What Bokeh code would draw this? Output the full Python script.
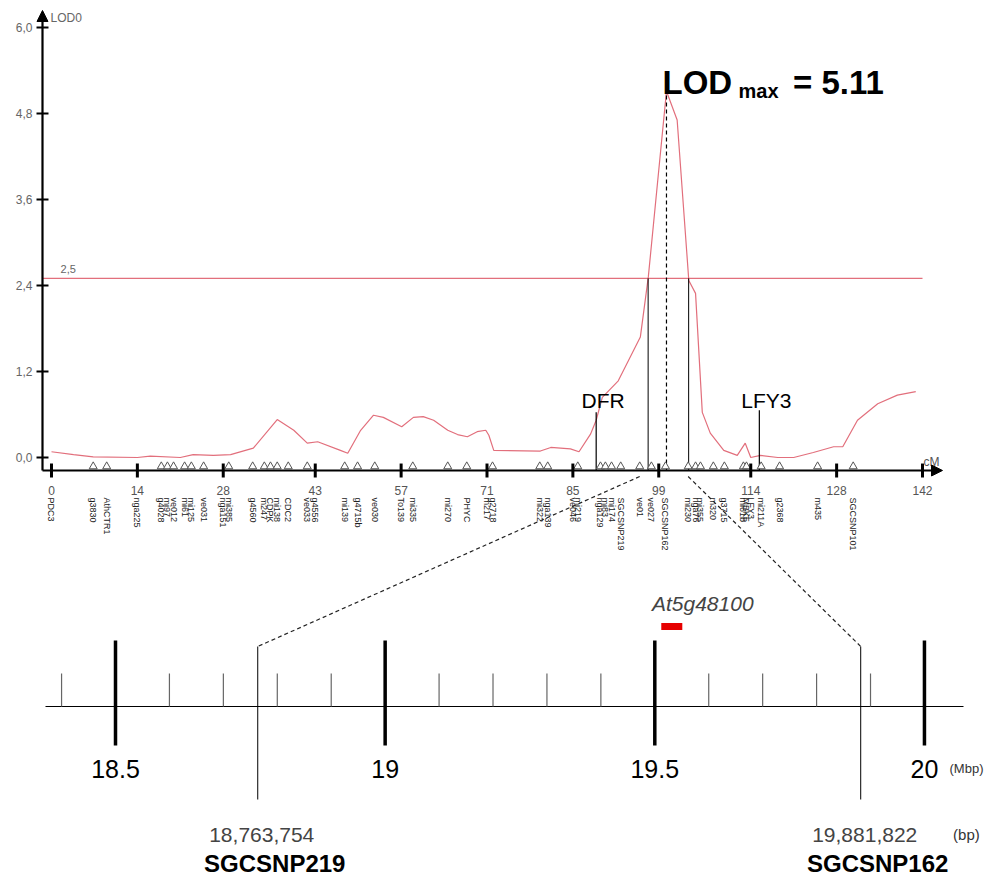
import numpy as np
from bokeh.plotting import figure
from bokeh.models import Range1d, Arrow, NormalHead
from bokeh.core.properties import value
from bokeh.embed import file_html
from bokeh.resources import INLINE

# ---------------- genetic map: LOD profile on chromosome 5 ----------------
lod_cm = [0.0, 3.6, 6.8, 14.0, 16.1, 21.0, 23.1, 26.4, 29.2, 32.9, 36.8, 39.5,
          41.7, 43.4, 47.1, 48.3, 50.4, 52.5, 54.1, 57.1, 59.0, 60.6, 62.3,
          64.6, 66.2, 67.8, 69.4, 70.8, 71.3, 72.1, 79.7, 81.4, 84.6, 86.0,
          87.9, 88.8, 89.8, 92.4, 96.0, 97.3, 100.26, 102.0, 103.9, 105.0,
          106.1, 107.4, 109.6, 111.8, 113.1, 114.0, 115.6, 118.4, 121.0,
          124.2, 127.5, 129.0, 131.4, 134.7, 137.9, 140.9]
lod_val = [0.08, 0.04, 0.01, 0.0, 0.02, 0.0, 0.04, 0.03, 0.04, 0.13, 0.53, 0.38,
           0.20, 0.22, 0.10, 0.06, 0.38, 0.59, 0.56, 0.43, 0.56, 0.57, 0.52,
           0.38, 0.32, 0.29, 0.36, 0.38, 0.31, 0.10, 0.09, 0.14, 0.12, 0.08,
           0.33, 0.52, 0.84, 1.07, 1.68, 2.52, 5.11, 4.71, 2.47, 2.29,
           0.63, 0.34, 0.10, 0.03, 0.20, 0.0, 0.03, 0.0, 0.0,
           0.07, 0.15, 0.15, 0.52, 0.75, 0.87, 0.92]
threshold = 2.5

lod_ticks = [0.0, 1.2, 2.4, 3.6, 4.8, 6.0]
lod_tick_labels = ["0,0", "1,2", "2,4", "3,6", "4,8", "6,0"]
cm_ticks = [0, 14, 28, 43, 57, 71, 85, 99, 114, 128, 142]
cm_tick_labels = ["0", "14", "28", "43", "57", "71", "85", "99", "114", "128", "142"]

marker_cm = [0.0, 6.8, 9.0, 14.0, 17.9, 18.9, 19.9, 21.7, 22.8, 24.8, 28.0,
             28.9, 32.8, 34.7, 35.7, 36.8, 38.6, 41.7, 43.0, 47.8, 49.9, 52.7,
             57.0, 58.9, 64.6, 67.7, 71.0, 71.9, 79.6, 80.9, 85.0, 85.8, 89.5,
             90.3, 91.3, 92.8, 95.9, 97.8, 100.1, 103.8, 105.0, 105.8, 107.9,
             109.7, 112.8, 113.3, 114.0, 115.7, 118.7, 124.9, 130.7, 142.0]
marker_name = ["PDC3", "g3830", "AthCTR1", "nga225", "g4028", "mi97", "ve012",
               "mi61", "mi125", "ve031", "nga151", "mi385", "g4560", "m247",
               "CDPK", "mi138", "CDC2", "ve033", "g4556", "mi139", "g4715b",
               "ve030", "To139", "mi335", "mi270", "PHYC", "m217", "g2718",
               "mi322", "nga139", "ve046", "mi219", "nga129", "mi83", "mi174",
               "SGCSNP219", "ve01", "ve027", "SGCSNP162", "mi230", "nga76",
               "mi355", "m320", "g3715", "mi61b", "MBK5", "LFY3", "mi211A",
               "g2368", "m435", "SGCSNP101"]

stem_name = ["DFR", "LFY3"]
stem_cm = [88.8, 115.4]
stem_lod = [0.63, 0.66]

# ---------------- physical map of the QTL interval ----------------
mbp_major = [18.5, 19.0, 19.5, 20.0]
mbp_major_labels = ["18.5", "19", "19.5", "20"]
mbp_minor = [18.4, 18.6, 18.7, 18.8, 18.9, 19.1, 19.2, 19.3, 19.4,
             19.6, 19.7, 19.8, 19.9]
snp_name = ["SGCSNP219", "SGCSNP162"]
snp_bp = [18763754, 19881822]
snp_cm = [95.9, 103.8]
gene_name = "At5g48100"
gene_mbp = [19.512, 19.551]

FONT = value("Liberation Sans")
CURVE = "#e26f7c"

# ---------------- canvas ----------------
W, H = 998, 879
p = figure(width=W, height=H, output_backend="svg", toolbar_location=None,
           x_range=Range1d(-8.314, 154.39), y_range=Range1d(-5.888, 6.3765),
           x_axis_type=None, y_axis_type=None, min_border=0,
           background_fill_color="white", border_fill_color="white")
p.outline_line_color = None
p.grid.visible = False
p.extra_x_ranges = {"mbp": Range1d(18.28676, 20.13731)}
p.extra_y_ranges = {"px": Range1d(H, 0)}

AXIS_Y = -0.181       # LOD level of the cM axis line
AXIS_X = -1.467       # cM position of the LOD axis line

# threshold and LOD curve
p.segment(x0=[AXIS_X], y0=[threshold], x1=[cm_ticks[-1]], y1=[threshold],
          line_color=CURVE, line_width=1.1)
p.text(x=[1.47], y=[threshold + 0.13], text=[f"{threshold:.1f}".replace(".", ",")],
       text_font=FONT, text_font_size="11px", text_color="#666",
       text_align="left", text_baseline="middle")
p.line(lod_cm, lod_val, line_color=CURVE, line_width=1.2)

# support interval stems where the curve crosses the threshold, and the peak
cm_arr = np.array(lod_cm)
lod_arr = np.array(lod_val)
ipk = int(np.argmax(lod_arr))
left_x = np.interp(threshold, lod_arr[:ipk + 1][-3:], cm_arr[:ipk + 1][-3:])
right_x = np.interp(threshold, lod_arr[ipk:ipk + 3][::-1], cm_arr[ipk:ipk + 3][::-1])
p.segment(x0=[left_x, right_x], y0=[AXIS_Y] * 2, x1=[left_x, right_x],
          y1=[threshold] * 2, line_color="black", line_width=1)
p.segment(x0=[cm_arr[ipk]], y0=[AXIS_Y], x1=[cm_arr[ipk]], y1=[lod_arr[ipk]],
          line_color="black", line_width=1.2, line_dash="4 3")

p.text(x=[99.61], y=[5.232], text=["LOD"], text_font=FONT, text_font_size="33px",
       text_font_style="bold", text_color="black", text_align="left",
       text_baseline="alphabetic")
p.text(x=[112.0], y=[5.107], text=["max"], text_font=FONT, text_font_size="20px",
       text_font_style="bold", text_color="black", text_align="left",
       text_baseline="alphabetic")
p.text(x=[120.9], y=[5.232], text=[f"= {lod_arr[ipk]:.2f}"], text_font=FONT,
       text_font_size="33px", text_font_style="bold", text_color="black",
       text_align="left", text_baseline="alphabetic")

# named marker stems
p.segment(x0=stem_cm, y0=[AXIS_Y] * len(stem_cm), x1=stem_cm, y1=stem_lod,
          line_color="black", line_width=1.2)
p.text(x=stem_cm, y=[0.795] * len(stem_cm), text=stem_name, x_offset=7,
       text_font=FONT, text_font_size="21px", text_color="black",
       text_align="center", text_baseline="alphabetic")

# LOD axis
p.add_layout(Arrow(end=NormalHead(size=11, fill_color="black", line_color="black"),
                   x_start=AXIS_X, y_start=AXIS_Y, x_end=AXIS_X, y_end=6.237,
                   line_width=2.2, line_color="black"))
p.segment(x0=[-2.445] * len(lod_ticks), y0=lod_ticks, x1=[-0.489] * len(lod_ticks),
          y1=lod_ticks, line_color="black", line_width=2)
p.text(x=[-3.1] * len(lod_ticks), y=lod_ticks, text=lod_tick_labels, text_font=FONT,
       text_font_size="12px", text_color="#666", text_align="right",
       text_baseline="middle")
p.text(x=[-0.163], y=[6.139], text=["LOD0"], text_font=FONT, text_font_size="12px",
       text_color="#666", text_align="left", text_baseline="middle")

# cM axis
p.add_layout(Arrow(end=NormalHead(size=11, fill_color="black", line_color="black"),
                   x_start=AXIS_X, y_start=AXIS_Y, x_end=145.26, y_end=AXIS_Y,
                   line_width=2.2, line_color="black"))
tri_x = [c for c in marker_cm if min(abs(c - t) for t in cm_ticks) > 0.5]
p.scatter(x=tri_x, y=[-0.125] * len(tri_x), marker="triangle", size=8,
          fill_color="white", line_color="#555", line_width=1)
p.segment(x0=cm_ticks, y0=[-0.084] * len(cm_ticks), x1=cm_ticks,
          y1=[-0.279] * len(cm_ticks), line_color="black", line_width=3)
p.text(x=cm_ticks, y=[-0.46] * len(cm_ticks), text=cm_tick_labels, text_font=FONT,
       text_font_size="12px", text_color="#555", text_align="center",
       text_baseline="middle")
p.text(x=[143.46], y=[-0.056], text=["cM"], text_font=FONT, text_font_size="12px",
       text_color="#555", text_align="center", text_baseline="middle")
p.text(x=marker_cm, y=[-0.558] * len(marker_cm), text=marker_name, angle=-np.pi / 2,
       text_font=FONT, text_font_size="9px", text_color="#222",
       text_align="left", text_baseline="middle")

# ---------------- physical map ----------------
MAP = dict(x_range_name="mbp", y_range_name="px")
p.segment(x0=[18.3702], y0=[706], x1=[20.0724], y1=[706], line_color="black",
          line_width=1.2, **MAP)
p.segment(x0=mbp_minor, y0=[673] * len(mbp_minor), x1=mbp_minor,
          y1=[706] * len(mbp_minor), line_color="#666", line_width=1.2, **MAP)
p.segment(x0=mbp_major, y0=[640] * len(mbp_major), x1=mbp_major,
          y1=[745] * len(mbp_major), line_color="black", line_width=3.5, **MAP)
p.text(x=mbp_major, y=[768] * len(mbp_major), text=mbp_major_labels, text_font=FONT,
       text_font_size="25px", text_color="black", text_align="center",
       text_baseline="middle", **MAP)
p.text(x=[20.0465], y=[768], text=["(Mbp)"], text_font=FONT, text_font_size="13px",
       text_color="#333", text_align="left", text_baseline="middle", **MAP)

# flanking SNP markers and their link back to the genetic map
xr, mr = p.x_range, p.extra_x_ranges["mbp"]


def cm_to_mbp(cm):
    frac = (cm - xr.start) / (xr.end - xr.start)
    return mr.start + frac * (mr.end - mr.start)


snp_mbp = [b / 1e6 for b in snp_bp]
p.segment(x0=snp_mbp, y0=[646] * 2, x1=snp_mbp, y1=[799] * 2, line_color="black",
          line_width=1, **MAP)
p.segment(x0=[cm_to_mbp(c) for c in snp_cm], y0=[476] * 2, x1=snp_mbp, y1=[646] * 2,
          line_color="#222", line_width=1.2, line_dash="4 3", **MAP)
p.text(x=snp_mbp, y=[834] * 2, text=[f"{b:,}" for b in snp_bp], x_offset=4,
       text_font=FONT, text_font_size="21px", text_color="#444",
       text_align="center", text_baseline="middle", **MAP)
p.text(x=snp_mbp, y=[863] * 2, text=snp_name, x_offset=17, text_font=FONT,
       text_font_size="24px", text_font_style="bold", text_color="black",
       text_align="center", text_baseline="middle", **MAP)
p.text(x=[20.0778], y=[834], text=["(bp)"], text_font=FONT, text_font_size="15px",
       text_color="#333", text_align="center", text_baseline="middle", **MAP)

# candidate gene
p.segment(x0=[gene_mbp[0]], y0=[626], x1=[gene_mbp[1]], y1=[626],
          line_color="#e60000", line_width=7, **MAP)
p.text(x=[sum(gene_mbp) / 2], y=[603], text=[gene_name], x_offset=31,
       text_font=FONT, text_font_size="21px", text_font_style="italic",
       text_color="#444", text_align="center", text_baseline="middle", **MAP)

open("out.html", "w").write(file_html(p, INLINE))
